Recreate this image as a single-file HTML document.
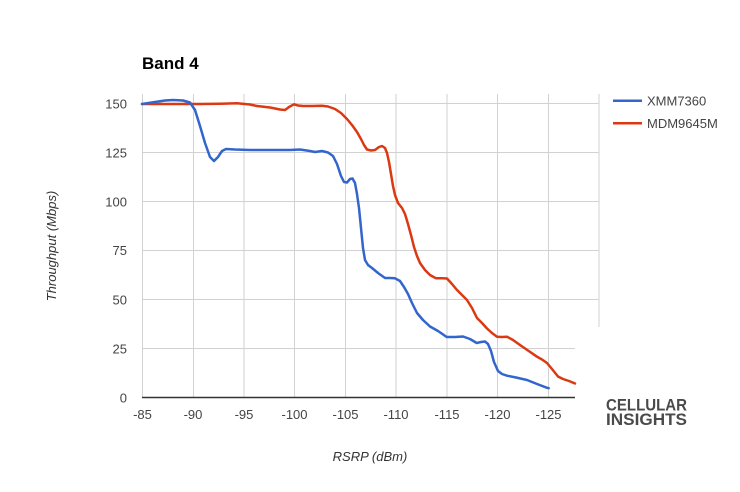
<!DOCTYPE html>
<html>
<head>
<meta charset="utf-8">
<style>
  html,body{margin:0;padding:0;background:#fff;}
  svg{display:block;}
  text{font-family:"Liberation Sans",Arial,sans-serif;}
</style>
</head>
<body>
<svg width="740" height="492" viewBox="0 0 740 492" xmlns="http://www.w3.org/2000/svg">
  <rect width="740" height="492" fill="#fff"/>
  <!-- title -->
  <text x="142" y="69" font-size="17" font-weight="bold" fill="#000">Band 4</text>

  <!-- gridlines horizontal -->
  <g stroke="#d2d2d2" stroke-width="1" fill="none">
    <line x1="142.5" y1="103.5" x2="599.5" y2="103.5"/>
    <line x1="142.5" y1="152.5" x2="599.5" y2="152.5"/>
    <line x1="142.5" y1="201.5" x2="599.5" y2="201.5"/>
    <line x1="142.5" y1="250.5" x2="599.5" y2="250.5"/>
    <line x1="142.5" y1="299.5" x2="599.5" y2="299.5"/>
    <line x1="142.5" y1="348.5" x2="575" y2="348.5"/>
    <!-- verticals -->
    <line x1="142.5" y1="94" x2="142.5" y2="397"/>
    <line x1="193.5" y1="94" x2="193.5" y2="397"/>
    <line x1="244" y1="94" x2="244" y2="397"/>
    <line x1="294.5" y1="94" x2="294.5" y2="397"/>
    <line x1="345.5" y1="94" x2="345.5" y2="397"/>
    <line x1="396" y1="94" x2="396" y2="397"/>
    <line x1="447" y1="94" x2="447" y2="397"/>
    <line x1="497.5" y1="94" x2="497.5" y2="397"/>
    <line x1="548.5" y1="94" x2="548.5" y2="397"/>
    <line x1="599" y1="94" x2="599" y2="327"/>
  </g>
  <!-- axis baseline -->
  <line x1="142" y1="397.5" x2="575" y2="397.5" stroke="#333" stroke-width="1.5"/>

  <!-- y tick labels -->
  <g font-size="13" fill="#444" text-anchor="end">
    <text x="127" y="108.5">150</text>
    <text x="127" y="157.5">125</text>
    <text x="127" y="206.5">100</text>
    <text x="127" y="255">75</text>
    <text x="127" y="304.5">50</text>
    <text x="127" y="353.5">25</text>
    <text x="127" y="402.5">0</text>
  </g>
  <!-- x tick labels -->
  <g font-size="13" fill="#444" text-anchor="middle">
    <text x="142.5" y="419">-85</text>
    <text x="193" y="419">-90</text>
    <text x="244" y="419">-95</text>
    <text x="294.5" y="419">-100</text>
    <text x="345.5" y="419">-105</text>
    <text x="396" y="419">-110</text>
    <text x="447" y="419">-115</text>
    <text x="497.5" y="419">-120</text>
    <text x="548.5" y="419">-125</text>
  </g>

  <!-- axis titles -->
  <text x="370" y="461" font-size="13" font-style="italic" fill="#333" text-anchor="middle">RSRP (dBm)</text>
  <text transform="translate(56,246) rotate(-90)" font-size="13" font-style="italic" fill="#333" text-anchor="middle">Throughput (Mbps)</text>

  <!-- series -->
  <polyline fill="none" stroke="#dc3912" stroke-width="2.5" stroke-linejoin="round" stroke-linecap="round" points="
142,104 160,104 180,104 200,104 220,103.8 237,103.3 250,104.5 257,106 270,107.5 280,109.5 285,110 289,107 294,104.3 298,105.5 303,106 312,106 322,105.7 328,106.5 335,109 341,113 347,119 352,125 357,132 361,139 364,145 367,149.5 371,150.5 375,150 379,147 382,146 385,148 387,153 389,162 391,174 393,186 395,195 398,203 402,208 405,214 408,224 411,235 414,247 417,256 420,263 425,270 430,275 436,278.3 442,278.3 447,278.5 452,284 457,290 462,295 467,300 472,308 477,318 482,323 487,328.5 492,333 497,336.7 502,337 507,336.7 513,340 520,345 528,350.5 537,356.7 542,359.5 547,363 552,369 558,376.5 563,379 569,381 575,383.5"/>
  <polyline fill="none" stroke="#3366cc" stroke-width="2.5" stroke-linejoin="round" stroke-linecap="round" points="
142,104 155,102 165,100.5 173,100 183,100.5 190,102.5 195,110 200,126 205,143 210,157 214,161 218,157 222,151 226,149 235,149.5 250,150 270,150 290,150 300,149.5 310,151 315,152 322,151 328,152.5 333,156 337,164 341,176 344,182 347,182.5 350,179 352.5,178.5 355,183 357,194 359,208 361,228 363,248 365,260 368,265 372,268 378,273 385,278 390,278 395,278.3 400,281 404,287 408,294 412,303 417,313 423,320 430,326.5 438,331 446.7,337 455,337 463,336.5 470,339 476.7,343 481,342 485,341.5 488,344 491,351 494,362 498,371 502,374 507,375.7 516,377.5 527,380 537,384 546.7,387.7 548.7,388.2"/>

  <!-- legend -->
  <line x1="613" y1="100.7" x2="642" y2="100.7" stroke="#3366cc" stroke-width="2.5"/>
  <text x="647" y="105.5" font-size="13" fill="#444">XMM7360</text>
  <line x1="613" y1="123.3" x2="642" y2="123.3" stroke="#dc3912" stroke-width="2.5"/>
  <text x="647" y="128" font-size="13" fill="#444">MDM9645M</text>

  <!-- logo -->
  <text x="606" y="410.7" font-size="16.5" font-weight="bold" fill="#4a4a4a" textLength="81" lengthAdjust="spacingAndGlyphs">CELLULAR</text>
  <text x="606" y="425" font-size="16.5" font-weight="bold" fill="#4a4a4a" textLength="81" lengthAdjust="spacingAndGlyphs">INSIGHTS</text>
</svg>
</body>
</html>
